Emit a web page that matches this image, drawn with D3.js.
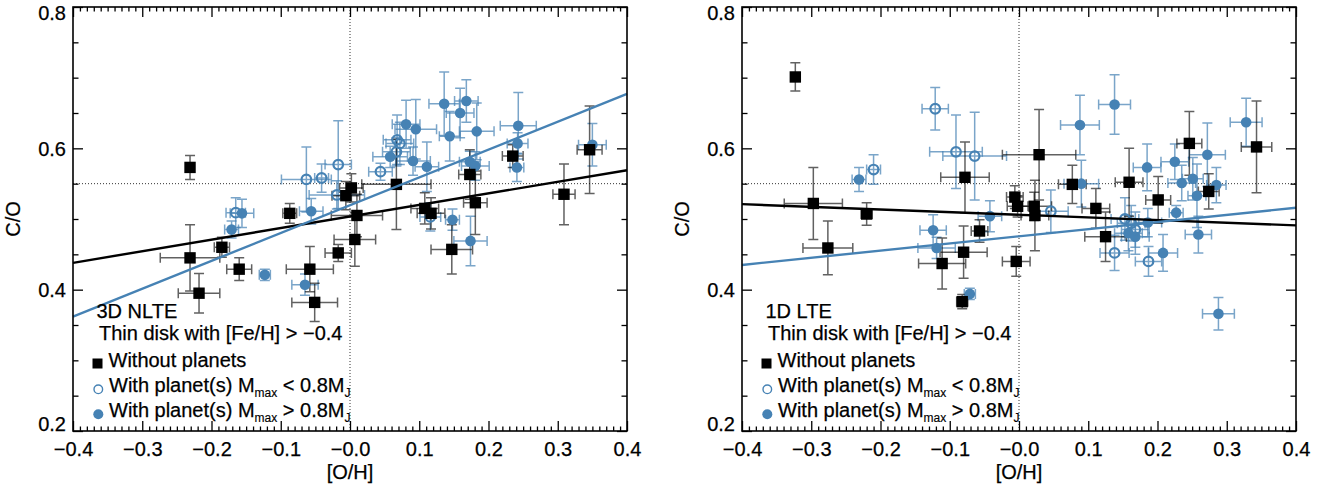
<!DOCTYPE html>
<html><head><meta charset="utf-8">
<script src="https://cdn.jsdelivr.net/npm/d3@7"></script>
<style>
body{margin:0;background:#fff}
svg{display:block}
text{font-family:"Liberation Sans",Arial,Helvetica,sans-serif;fill:#000;stroke:#000;stroke-width:0.25px}
</style>
</head><body>
<svg id="chart" width="1333" height="486"></svg>
<script>
// ---------- data ----------
const xTickValues = [-0.4,-0.3,-0.2,-0.1,0,0.1,0.2,0.3,0.4];
const xTickLabels = ["\u22120.4","\u22120.3","\u22120.2","\u22120.1","\u22120.0","0.1","0.2","0.3","0.4"];
const yTickValues = [0.2,0.4,0.6,0.8];
const yTickLabels = ["0.2","0.4","0.6","0.8"];
const panelTitles = ["3D NLTE","1D LTE"];
const subtitle = "Thin disk with [Fe/H] > \u22120.4";
const xLabel = "[O/H]";
const yLabel = "C/O";
const solarCO = 0.55;
const refOH = 0.0;

// each row: [O/H], C/O, error in [O/H], error in C/O
const nlteNoPlanets = [
 [-0.231,0.573,0.005,0.017],[-0.231,0.445,0.043,0.047],[-0.218,0.395,0.030,0.028],
 [-0.185,0.460,0.011,0.014],[-0.160,0.429,0.018,0.016],[-0.087,0.508,0.010,0.014],
 [-0.058,0.429,0.034,0.032],[-0.051,0.382,0.033,0.027],[-0.017,0.452,0.019,0.012],
 [0.002,0.544,0.017,0.020],[-0.006,0.533,0.020,0.020],[0.010,0.505,0.037,0.030],
 [0.007,0.471,0.030,0.038],[0.067,0.549,0.050,0.064],[0.108,0.515,0.020,0.022],
 [0.117,0.508,0.020,0.022],[0.147,0.457,0.030,0.035],[0.173,0.563,0.016,0.035],
 [0.181,0.523,0.017,0.045],[0.235,0.589,0.015,0.016],[0.309,0.535,0.016,0.043],
 [0.346,0.598,0.018,0.062]
];
const nlteLowMass = [
 [-0.165,0.509,0.014,0.021],[-0.063,0.556,0.036,0.046],[-0.041,0.558,0.010,0.020],
 [-0.017,0.577,0.019,0.062],[-0.019,0.534,0.040,0.020],[0.044,0.567,0.017,0.012],
 [0.068,0.612,0.020,0.035],[0.072,0.607,0.020,0.030],[0.067,0.595,0.020,0.020],
 [0.116,0.503,0.015,0.020]
];
const nlteHighMass = [
 [-0.171,0.485,0.010,0.012],[-0.156,0.508,0.017,0.020],[-0.056,0.511,0.017,0.018],
 [-0.123,0.421,0.008,0.008],[-0.065,0.407,0.019,0.015],[0.058,0.588,0.025,0.015],
 [0.081,0.634,0.020,0.034],[0.095,0.627,0.030,0.042],[0.091,0.582,0.025,0.020],
 [0.111,0.574,0.017,0.035],[0.136,0.663,0.022,0.045],[0.159,0.650,0.020,0.035],
 [0.168,0.667,0.017,0.030],[0.144,0.617,0.015,0.035],[0.183,0.624,0.025,0.040],
 [0.243,0.632,0.026,0.047],[0.242,0.607,0.015,0.015],[0.241,0.573,0.010,0.020],
 [0.173,0.581,0.015,0.015],[0.181,0.575,0.020,0.020],[0.148,0.499,0.010,0.015],
 [0.174,0.469,0.024,0.035],[0.350,0.605,0.020,0.030]
];
const lteNoPlanets = [
 [-0.323,0.701,0.005,0.020],[-0.297,0.522,0.042,0.051],[-0.220,0.507,0.008,0.016],
 [-0.276,0.459,0.036,0.038],[-0.078,0.559,0.035,0.050],[-0.057,0.483,0.012,0.016],
 [-0.080,0.453,0.034,0.037],[-0.111,0.437,0.034,0.036],[-0.082,0.383,0.008,0.010],
 [-0.006,0.531,0.012,0.016],[-0.002,0.518,0.015,0.015],[-0.004,0.440,0.020,0.021],
 [0.029,0.591,0.053,0.064],[0.023,0.505,0.020,0.050],[0.022,0.518,0.025,0.020],
 [0.077,0.549,0.020,0.027],[0.111,0.515,0.020,0.028],[0.125,0.475,0.030,0.035],
 [0.159,0.552,0.020,0.048],[0.201,0.527,0.018,0.033],[0.246,0.607,0.018,0.045],
 [0.274,0.539,0.015,0.025],[0.343,0.602,0.022,0.065]
];
const lteLowMass = [
 [-0.121,0.656,0.019,0.030],[-0.210,0.570,0.010,0.021],[-0.091,0.595,0.038,0.052],
 [-0.064,0.589,0.046,0.062],[0.046,0.511,0.025,0.030],[0.138,0.452,0.021,0.025],
 [0.187,0.440,0.019,0.021],[0.153,0.500,0.020,0.030],[0.162,0.494,0.020,0.025],
 [0.168,0.485,0.020,0.025]
];
const lteHighMass = [
 [-0.231,0.556,0.010,0.017],[-0.124,0.484,0.019,0.022],[-0.119,0.459,0.027,0.015],
 [-0.042,0.504,0.017,0.022],[-0.071,0.394,0.008,0.008],[0.088,0.633,0.028,0.042],
 [0.138,0.662,0.023,0.042],[0.090,0.550,0.025,0.033],[0.185,0.573,0.020,0.033],
 [0.225,0.581,0.020,0.025],[0.272,0.591,0.026,0.045],[0.235,0.551,0.020,0.025],
 [0.251,0.557,0.015,0.030],[0.285,0.548,0.014,0.025],[0.257,0.533,0.013,0.045],
 [0.328,0.637,0.023,0.034],[0.227,0.509,0.010,0.010],[0.186,0.495,0.020,0.020],
 [0.158,0.480,0.020,0.025],[0.168,0.475,0.020,0.025],[0.259,0.478,0.019,0.026],
 [0.208,0.452,0.021,0.026],[0.288,0.366,0.023,0.023]
];
// linear fits (end points)
const nlteFitNoPlanets = [[-0.4,0.438],[0.4,0.569]];
const nlteFitPlanets   = [[-0.4,0.362],[0.4,0.677]];
const lteFitNoPlanets  = [[-0.4,0.521],[0.4,0.491]];
const lteFitPlanets    = [[-0.4,0.435],[0.4,0.516]];

// ---------- drawing ----------
const BLUE = "#4682B4";
const svg = d3.select("#chart");
const W = 554, H = 424;
const x = d3.scaleLinear().domain([-0.4,0.4]).range([0,W]);
const y = d3.scaleLinear().domain([0.2,0.8]).range([H,0]);
const xMinor = d3.range(-40,41).map(d=>d/100).filter(v=>!xTickValues.some(t=>Math.abs(t-v)<1e-9));
const yMinor = d3.range(4,17).map(d=>d*0.05).filter(v=>!yTickValues.some(t=>Math.abs(t-v)<1e-9));

function drawPanel(left, title, noP, lowM, highM, fitNo, fitP){
  const g = svg.append("g").attr("transform",`translate(${left},7)`);

  // reference dotted lines
  g.append("line").attr("x1",0).attr("x2",W).attr("y1",y(solarCO)).attr("y2",y(solarCO))
    .attr("stroke","#333").attr("stroke-width",1).attr("stroke-dasharray","1,2");
  g.append("line").attr("x1",x(refOH)).attr("x2",x(refOH)).attr("y1",0).attr("y2",H)
    .attr("stroke","#333").attr("stroke-width",1).attr("stroke-dasharray","1,2");

  function errBars(data, color, op){
    const eg = g.append("g").attr("stroke",color).attr("stroke-opacity",op).attr("stroke-width",1.5).attr("fill","none");
    const cap = 5;
    data.forEach(d=>{
      const cx=x(d[0]), cy=y(d[1]);
      const x0=x(d[0]-d[2]), x1=x(d[0]+d[2]);
      const y0=y(d[1]-d[3]), y1=y(d[1]+d[3]);
      const p = d3.path();
      p.moveTo(x0,cy); p.lineTo(x1,cy);
      p.moveTo(x0,cy-cap); p.lineTo(x0,cy+cap);
      p.moveTo(x1,cy-cap); p.lineTo(x1,cy+cap);
      p.moveTo(cx,y0); p.lineTo(cx,y1);
      p.moveTo(cx-cap,y0); p.lineTo(cx+cap,y0);
      p.moveTo(cx-cap,y1); p.lineTo(cx+cap,y1);
      eg.append("path").attr("d",p.toString());
    });
  }
  errBars(highM, BLUE, 0.72);
  errBars(lowM, BLUE, 0.72);
  errBars(noP, "#000", 0.62);

  g.append("g").selectAll("circle").data(highM).join("circle")
    .attr("cx",d=>x(d[0])).attr("cy",d=>y(d[1])).attr("r",5.3).attr("fill",BLUE);
  g.append("g").selectAll("circle").data(lowM).join("circle")
    .attr("cx",d=>x(d[0])).attr("cy",d=>y(d[1])).attr("r",4.8).attr("fill","none")
    .attr("stroke",BLUE).attr("stroke-width",2.2);
  g.append("g").selectAll("rect").data(noP).join("rect")
    .attr("x",d=>x(d[0])-5.7).attr("y",d=>y(d[1])-5.7).attr("width",11.4).attr("height",11.4).attr("fill","#000");

  const line = d3.line().x(d=>x(d[0])).y(d=>y(d[1]));
  g.append("path").attr("d",line(fitNo)).attr("stroke","#000").attr("stroke-width",2.4).attr("fill","none");
  g.append("path").attr("d",line(fitP)).attr("stroke",BLUE).attr("stroke-width",2.4).attr("fill","none");

  // axes
  const fs = "20px";
  const bx = g.append("g").attr("transform",`translate(0,${H})`)
    .call(d3.axisBottom(x).tickValues(xTickValues).tickSizeInner(-10).tickSizeOuter(0).tickPadding(11)
      .tickFormat((d,i)=>xTickLabels[i]));
  bx.selectAll("text").style("font-size",fs).attr("dy","0.72em");
  g.append("g").attr("transform",`translate(0,${H})`)
    .call(d3.axisBottom(x).tickValues(xMinor).tickSizeInner(-4.5).tickSizeOuter(0).tickFormat(""));
  g.append("g").call(d3.axisTop(x).tickValues(xTickValues).tickSizeInner(-10).tickSizeOuter(0).tickFormat(""));
  g.append("g").call(d3.axisTop(x).tickValues(xMinor).tickSizeInner(-4.5).tickSizeOuter(0).tickFormat(""));

  const ly = g.append("g").call(d3.axisLeft(y).tickValues(yTickValues).tickSizeInner(-10).tickSizeOuter(0).tickPadding(7)
      .tickFormat((d,i)=>yTickLabels[i]));
  ly.selectAll("text").style("font-size",fs).attr("dy",d=> d>0.79 ? "0.6em" : (d<0.21 ? "-0.05em" : "0.36em"));
  g.append("g").call(d3.axisLeft(y).tickValues(yMinor).tickSizeInner(-5.5).tickSizeOuter(0).tickFormat(""));
  g.append("g").attr("transform",`translate(${W},0)`)
    .call(d3.axisRight(y).tickValues(yTickValues).tickSizeInner(-10).tickSizeOuter(0).tickFormat(""));
  g.append("g").attr("transform",`translate(${W},0)`)
    .call(d3.axisRight(y).tickValues(yMinor).tickSizeInner(-5.5).tickSizeOuter(0).tickFormat(""));
  g.selectAll(".domain").remove();
  g.selectAll(".tick line").attr("stroke","#000").attr("stroke-width",1.3);

  g.append("rect").attr("x",0).attr("y",0).attr("width",W).attr("height",H)
    .attr("fill","none").attr("stroke","#000").attr("stroke-width",1.6);

  // axis titles
  g.append("text").attr("x",x(0)).attr("y",471.5).attr("text-anchor","middle").style("font-size",fs).text(xLabel);
  g.append("text").attr("transform",`translate(-53,${y(0.5)}) rotate(-90)`).attr("text-anchor","middle")
    .style("font-size",fs).text(yLabel);

  // legend
  const lg = g.append("g");
  lg.append("text").attr("x",23.5).attr("y",310.5).style("font-size",fs).text(title);
  lg.append("text").attr("x",26).attr("y",332.5).style("font-size",fs).text(subtitle);
  lg.append("rect").attr("x",19.5).attr("y",351.5).attr("width",10).attr("height",10).attr("fill","#000");
  lg.append("text").attr("x",35.5).attr("y",360).style("font-size",fs).text("Without planets");
  lg.append("circle").attr("cx",25.3).attr("cy",382.3).attr("r",4.3).attr("fill","#fff").attr("stroke",BLUE).attr("stroke-width",1.4);
  const t1 = lg.append("text").attr("x",36).attr("y",385).style("font-size",fs);
  t1.append("tspan").text("With planet(s) M");
  t1.append("tspan").attr("dy",5).style("font-size","12px").style("stroke-width","0.15px").text("max");
  t1.append("tspan").attr("dy",-5).text(" < 0.8M");
  t1.append("tspan").attr("dy",5).style("font-size","12px").style("stroke-width","0.15px").text("J");
  lg.append("circle").attr("cx",25.3).attr("cy",407.3).attr("r",5).attr("fill",BLUE);
  const t2 = lg.append("text").attr("x",36).attr("y",410).style("font-size",fs);
  t2.append("tspan").text("With planet(s) M");
  t2.append("tspan").attr("dy",5).style("font-size","12px").style("stroke-width","0.15px").text("max");
  t2.append("tspan").attr("dy",-5).text(" > 0.8M");
  t2.append("tspan").attr("dy",5).style("font-size","12px").style("stroke-width","0.15px").text("J");
}

drawPanel(73, panelTitles[0], nlteNoPlanets, nlteLowMass, nlteHighMass, nlteFitNoPlanets, nlteFitPlanets);
drawPanel(742, panelTitles[1], lteNoPlanets, lteLowMass, lteHighMass, lteFitNoPlanets, lteFitPlanets);
</script>
</body></html>
